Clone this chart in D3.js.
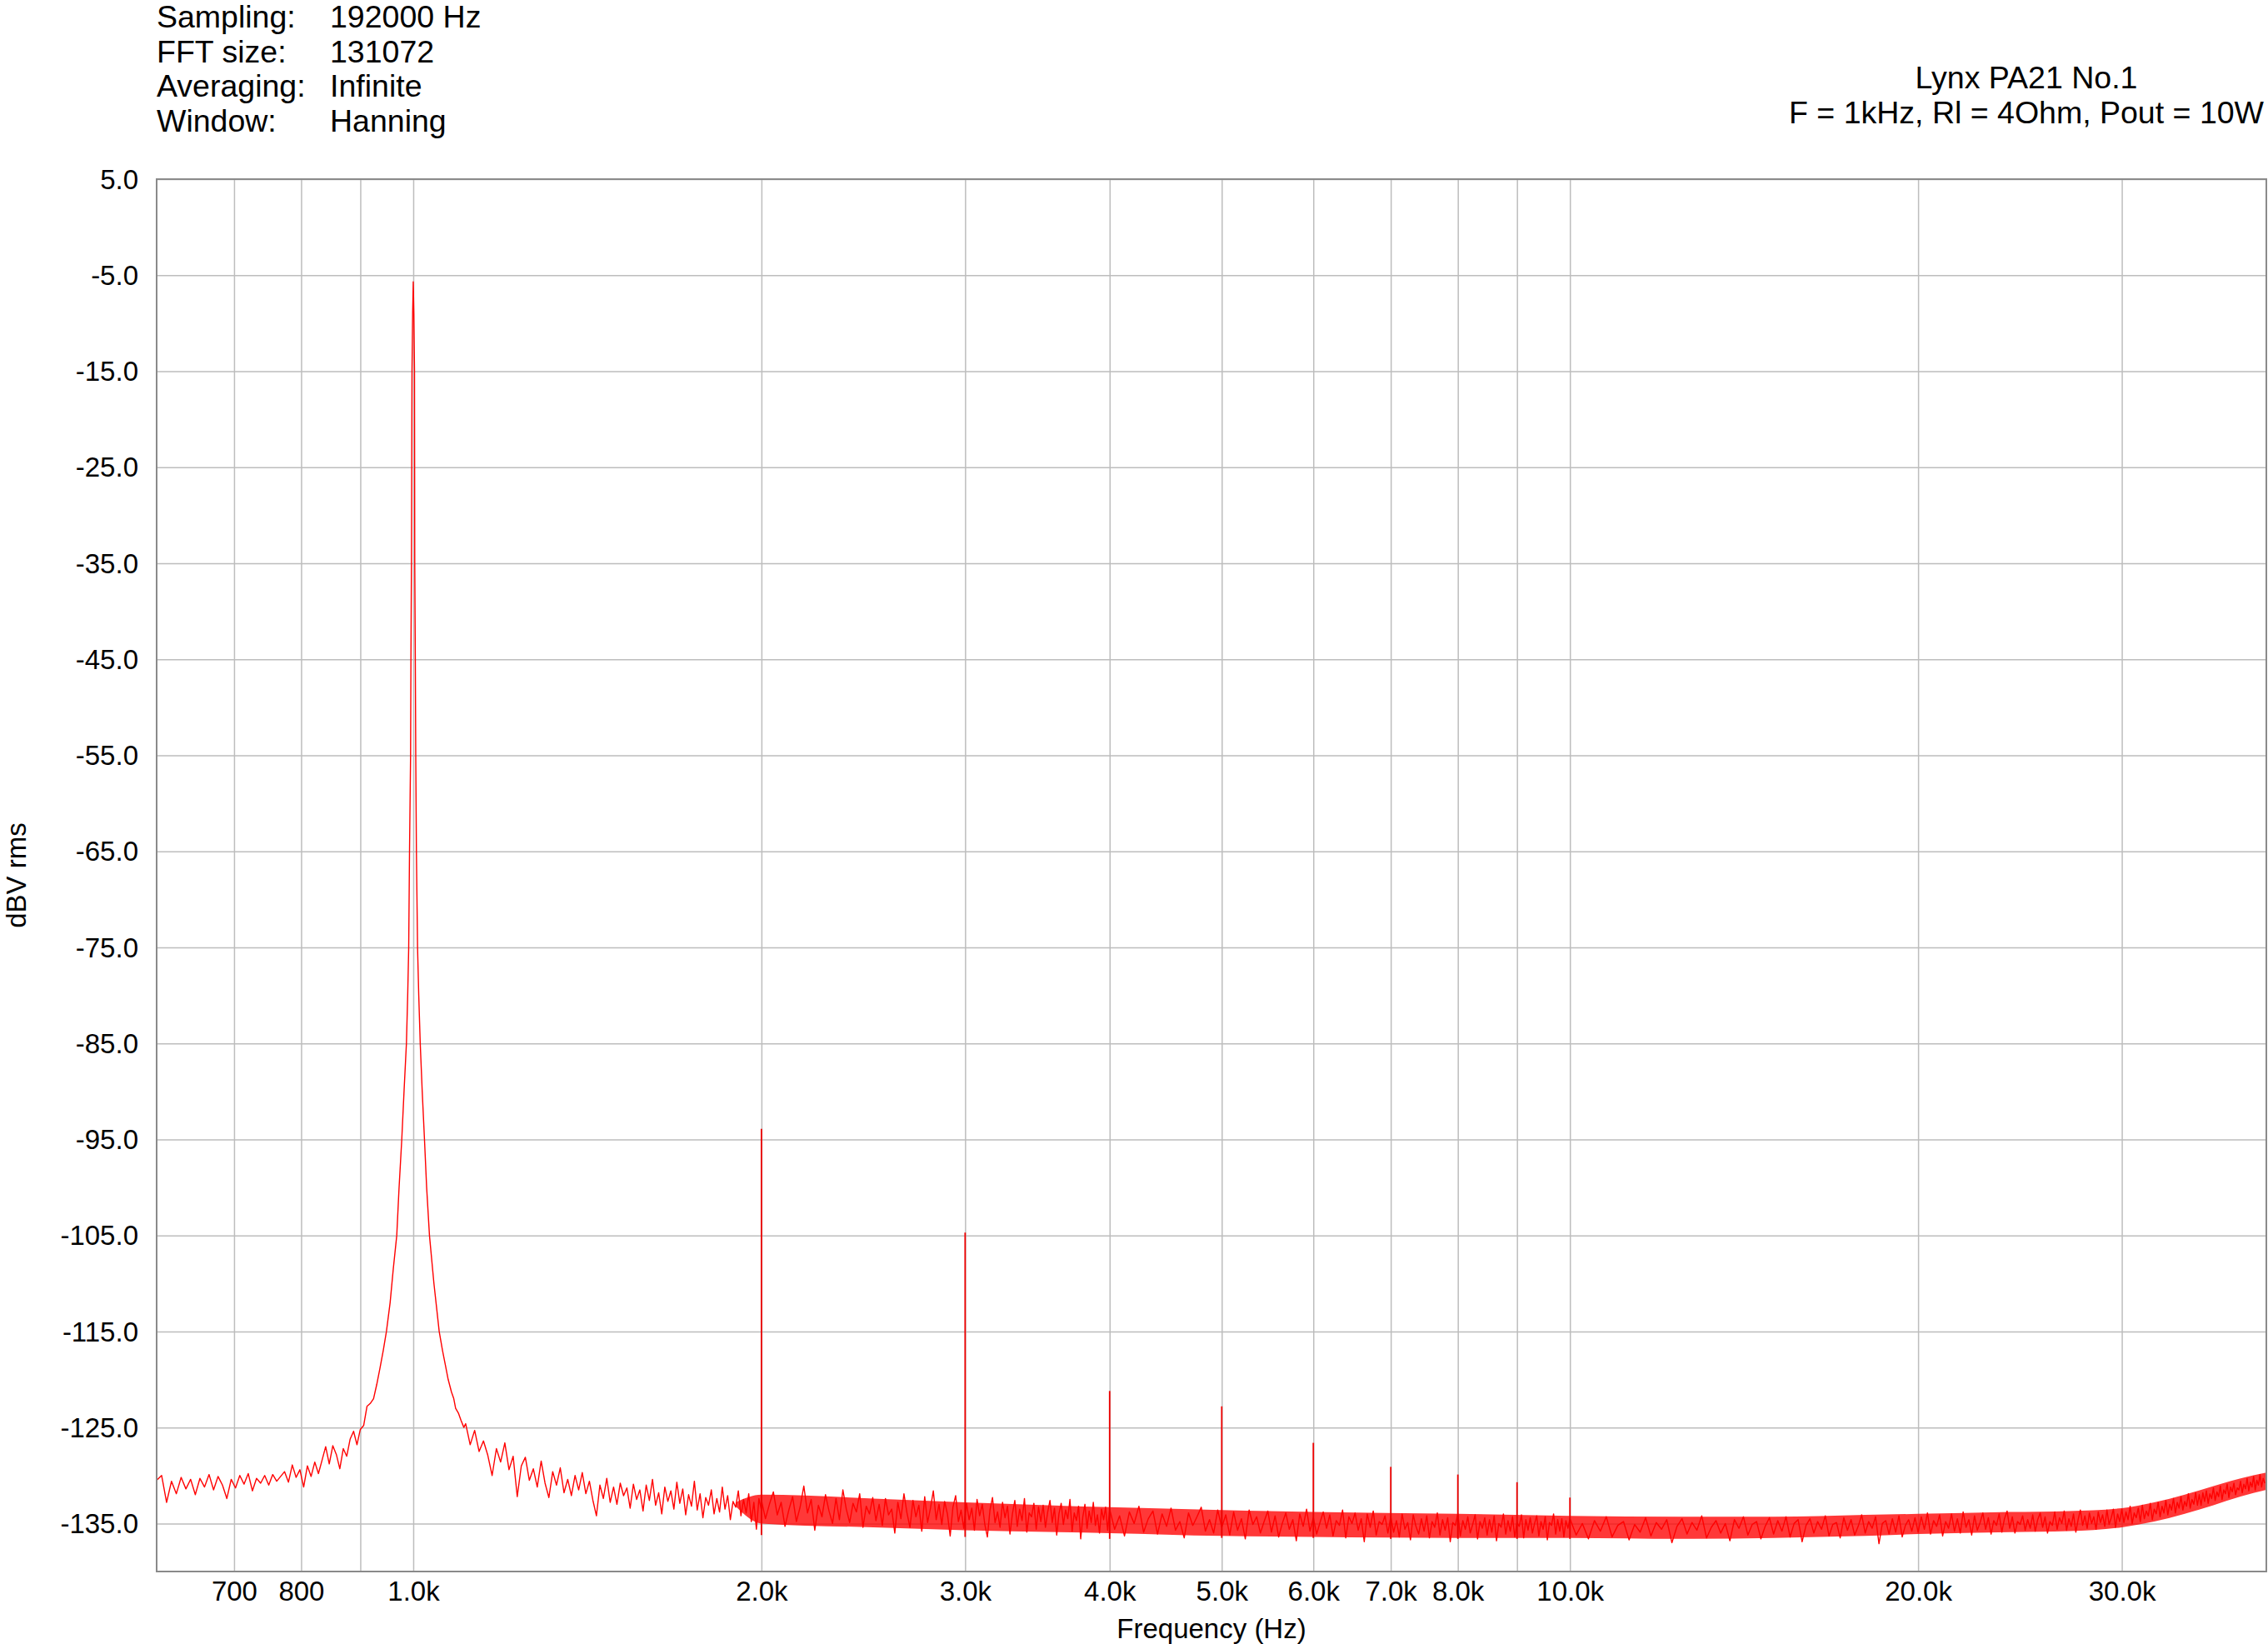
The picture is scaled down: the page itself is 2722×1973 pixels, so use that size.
<!DOCTYPE html>
<html>
<head>
<meta charset="utf-8">
<script src="https://cdn.jsdelivr.net/npm/d3@7"></script>
<style>
body { margin: 0; background: #fff; }
text { font-family: "Liberation Sans", Arial, sans-serif; fill: #000; }
</style>
</head>
<body>
<script>
// ---- data ----
var infoKeys = ["Sampling:", "FFT size:", "Averaging:", "Window:"];
var infoVals = ["192000 Hz", "131072", "Infinite", "Hanning"];
var titleLines = ["Lynx PA21 No.1", "F = 1kHz, Rl = 4Ohm, Pout = 10W"];

var xTickHz = [700, 800, 900, 1000, 2000, 3000, 4000, 5000, 6000, 7000, 8000, 9000, 10000, 20000, 30000];
var xTickText = ["700", "800", "", "1.0k", "2.0k", "3.0k", "4.0k", "5.0k", "6.0k", "7.0k", "8.0k", "", "10.0k", "20.0k", "30.0k"];
var yTicks = [5, -5, -15, -25, -35, -45, -55, -65, -75, -85, -95, -105, -115, -125, -135];

// 600..948 Hz, 6 Hz apart
var lowStart = 600, lowStep = 6;
var lowDb = [-130.5, -130.0, -132.8, -130.6, -131.9, -130.2, -131.4, -130.4, -132.0, -130.3,
  -131.2, -129.9, -131.5, -130.1, -131.0, -132.4, -130.4, -131.3, -130.0, -130.9,
  -129.8, -131.6, -130.3, -130.8, -130.0, -131.0, -129.9, -130.6, -130.1, -129.6,
  -130.7, -128.9, -130.2, -129.4, -131.2, -129.0, -130.1, -128.6, -129.8, -128.4,
  -127.0, -128.8, -126.9, -127.8, -129.3, -127.2, -128.0, -126.2, -125.4, -126.8,
  -125.2, -124.8, -122.8, -122.5, -122.0, -120.5, -118.8, -117.0, -115.0];

// fundamental skirt
var peakHz = [955, 961, 967.7, 972, 977.4, 982, 986.5, 989, 991, 992.6, 994.7, 995.4, 996.4, 997.5, 998.8, 1000,
  1001.2, 1002.5, 1003, 1004.1, 1005, 1006.3, 1008.6, 1011, 1014, 1018, 1022.6, 1027, 1032.8, 1042, 1053,
  1060, 1066, 1072, 1079, 1084, 1088, 1094, 1100, 1106];
var peakDb = [-112.0, -108.5, -105, -100.2, -95, -89.8, -85, -80, -75, -65, -55, -45, -35, -15, -9, -5.7,
  -9, -15, -35, -45, -55, -65, -75, -80, -85, -90, -95, -100, -105, -110, -115,
  -117, -118.5, -120, -121.3, -122.0, -123.0, -123.5, -124.3, -125];

// 1110..2000 Hz, 10 Hz apart
var midStart = 1110, midStep = 10;
var midDb = [-124.6, -126.8, -125.3, -127.5, -126.4, -127.9, -130.0, -127.2, -128.6, -126.6,
  -129.4, -128.0, -132.2, -129.0, -128.1, -130.5, -129.3, -131.2, -128.5, -130.8,
  -132.3, -129.6, -131.0, -129.2, -131.8, -130.4, -132.1, -130.0, -131.5, -129.7,
  -131.9, -130.6, -132.6, -134.2, -131.0, -132.4, -130.3, -132.8, -131.2, -133.0,
  -130.8, -132.1, -131.3, -133.4, -130.9, -132.5, -131.5, -133.7, -131.0, -132.6,
  -130.4, -133.1, -131.8, -134.0, -131.2, -132.7, -131.6, -133.5, -130.7, -132.9,
  -131.4, -134.1, -132.0, -133.2, -130.6, -133.6, -131.9, -134.4, -132.3, -133.1,
  -131.5, -134.0, -132.4, -133.8, -131.2, -133.5, -132.1, -134.6, -132.7, -133.3,
  -131.6, -134.2, -132.5, -133.9, -131.9, -134.8, -132.8, -135.6, -132.4, -133.6];

// 2000..3984 Hz, 16 Hz apart
var band1Start = 2000, band1Step = 16;
var band1Db = [-132.6, -134.5, -133.0, -131.7, -134.1, -132.8, -135.3, -133.6, -132.2, -134.8,
  -133.3, -131.1, -133.9, -132.5, -135.7, -133.1, -134.3, -132.0, -133.7, -135.0,
  -132.4, -134.6, -131.5, -133.5, -134.9, -132.9, -133.8, -131.9, -135.4, -133.2,
  -134.0, -132.3,
  -134.7, -133.0, -135.2, -132.4, -134.1, -133.5, -136.0, -132.8, -134.5, -131.9,
  -133.9, -135.4, -132.6, -134.3, -133.1, -135.8, -132.2, -134.9, -133.4, -131.6,
  -134.6, -133.0, -135.1, -132.7, -134.0, -136.3, -133.3, -132.1, -134.8, -133.6,
  -135.5,
  -132.9, -134.6, -133.4, -135.7, -132.5, -134.2, -133.0, -135.1, -136.4, -133.6,
  -132.3, -134.9, -133.8, -135.4, -132.8, -134.4, -133.2, -136.1, -134.0, -132.6,
  -135.3, -133.5, -134.7, -132.4, -135.9, -133.9, -134.3, -132.9, -135.6, -133.3,
  -134.8,
  -133.1, -135.4, -133.8, -132.6, -134.9, -133.4, -136.2, -134.0, -132.9, -135.1,
  -133.6, -134.5, -132.5, -135.8, -133.9, -134.7, -133.2, -136.6, -134.3, -133.0,
  -135.5, -133.7, -134.9, -132.8, -135.2, -134.1, -136.0, -133.5, -134.6, -133.3,
  -135.7];

// 4000..9960 Hz, 40 Hz apart
var band2Start = 4000, band2Step = 40;
var band2Db = [-133.5, -135.6, -134.2, -136.3, -133.8, -135.0, -133.2, -135.9, -134.5, -133.7,
  -136.1, -134.0, -135.3, -133.4, -135.7, -134.8, -136.5, -133.9, -135.2, -134.3,
  -133.3, -135.8, -134.6, -136.0, -133.6,
  -135.4, -134.1, -136.2, -133.8, -135.7, -134.5, -136.6, -133.6, -135.1, -134.3,
  -136.0, -134.8, -133.7, -135.9, -134.2, -136.4, -135.0, -133.9, -135.6, -134.6,
  -136.8, -134.0, -135.3, -133.5, -135.8, -134.4, -136.1, -134.9, -133.8, -135.5,
  -134.1, -136.3, -134.7, -135.2, -133.6, -136.5, -134.3, -135.0, -133.9, -135.7,
  -134.5, -136.9, -134.0, -135.4, -133.7, -136.2, -134.8, -135.1, -134.2, -136.0,
  -134.3, -135.9, -134.7, -136.4, -134.0, -135.6, -134.9, -136.7, -134.1, -135.3,
  -136.1, -134.5, -135.8, -134.2, -136.5, -134.8, -135.4, -133.9, -136.2, -134.6,
  -135.7, -134.4, -136.9, -134.9, -135.2, -134.0, -136.3, -134.7, -135.6, -134.3,
  -136.0, -135.1, -134.1, -136.6, -134.8, -135.5, -134.4, -136.2, -134.6, -135.9,
  -134.2, -136.8, -135.0, -135.4, -134.0, -136.1, -134.7, -135.8, -134.3, -136.4,
  -134.9, -135.3, -134.1, -136.5, -134.6, -135.7, -134.4, -136.0, -135.0, -134.2,
  -136.3, -134.8, -135.6, -134.3, -136.7, -134.9, -135.2, -134.0, -136.1, -134.6,
  -135.8, -134.5, -136.4, -134.7, -135.5];

// 10000..39875 Hz, 125 Hz apart
var band3Start = 10000, band3Step = 125;
var band3Db = [-134.5, -136.2, -135.0, -136.6, -134.7, -135.8, -134.3, -136.4, -135.2, -134.8,
  -136.7, -135.1, -135.9, -134.4, -136.3, -134.9, -135.6, -134.6, -137.0, -135.3,
  -134.5, -136.1, -134.9, -135.7, -134.2, -136.5, -135.4, -134.7, -136.0, -135.0,
  -136.8, -134.6, -135.5, -134.3, -136.2, -135.1, -134.8, -136.6, -135.3, -134.4,
  -136.1, -134.7, -135.8, -134.3, -136.4, -135.0, -134.6, -136.9, -135.2, -134.5,
  -136.0, -134.8, -135.6, -134.2, -136.3, -135.1, -134.9, -136.5, -134.4, -135.7,
  -134.6, -136.2, -135.3, -134.1, -136.0, -134.8, -135.5, -134.3, -137.1, -135.0,
  -134.7, -136.1, -134.5, -135.9, -134.2, -136.4, -135.2, -134.6, -135.8, -134.4,
  -135.9, -134.3, -135.6, -133.9, -136.1, -134.7, -135.3, -134.1, -136.3, -134.8,
  -135.5, -134.0, -135.8, -134.5, -136.0, -133.8, -135.4, -134.6, -136.2, -134.2,
  -135.7, -134.9, -133.9, -135.6, -134.4, -136.1, -134.7, -135.2, -134.0, -135.9,
  -134.5, -133.7, -135.5, -134.3, -136.0, -134.8, -135.1, -134.2, -135.7, -134.6,
  -135.5, -134.1, -135.8, -134.6, -133.9, -135.4, -134.3, -136.0, -134.8, -135.2,
  -133.8, -135.6, -134.4, -135.0, -133.7, -135.7, -134.5, -135.3, -134.0, -135.9,
  -134.6, -133.6, -135.2, -134.2, -135.5, -133.9, -135.0, -134.3, -135.6, -133.8,
  -134.9, -134.1, -135.3, -133.6, -135.1, -134.4, -133.5, -135.4, -134.0, -134.8,
  -133.5, -134.9, -133.8, -134.6, -133.2, -135.0, -133.9, -134.4, -133.4, -134.8,
  -133.1, -134.5, -133.7, -134.2, -132.9, -134.6, -133.5, -134.0, -132.8, -134.3,
  -133.2, -133.9, -132.6, -134.1, -133.0, -133.6, -132.4, -133.9, -132.8, -133.4,
  -132.2, -133.6, -132.7, -133.2, -131.9, -133.4, -132.5, -133.0, -131.8, -133.1,
  -132.0, -133.1, -131.8, -132.7, -131.6, -132.9, -131.9, -132.4, -131.3, -132.6,
  -131.7, -132.2, -131.1, -132.5, -131.5, -131.9, -130.9, -132.3, -131.2, -131.7,
  -130.8, -132.0, -131.3, -131.5, -130.6, -131.8, -130.9, -131.4, -130.3, -131.6,
  -130.7, -131.2, -130.1, -131.5, -130.5, -131.0, -129.9, -131.2, -130.3, -130.8];

// envelope of the dense noise band
var bandHz = [1900, 2000, 2500, 3000, 4000, 5000, 6000, 8000, 10000, 12500, 15000, 18000, 20000, 24000, 27000, 30000, 32000, 34000, 36000, 38000, 40000];
var bandHi = [-132.8, -132.0, -132.4, -132.8, -133.3, -133.6, -133.8, -134.0, -134.2, -134.3, -134.3, -134.1, -134.0, -133.8, -133.7, -133.4, -132.8, -132.0, -131.1, -130.3, -129.7];
var bandLo = [-133.2, -135.0, -135.4, -135.7, -136.0, -136.3, -136.4, -136.5, -136.5, -136.6, -136.5, -136.3, -136.1, -135.9, -135.8, -135.4, -134.8, -134.0, -133.1, -132.2, -131.5];

// harmonic spikes
var harmHz = [2000, 3000, 4000, 5000, 6000, 7000, 8000, 9000, 10000];
var harmDb = [-93.9, -104.7, -121.2, -122.8, -126.6, -129.1, -129.9, -130.7, -132.3];
var harmFoot = [-136.2, -136.4, -136.6, -136.5, -136.5, -136.6, -136.6, -136.6, -136.6];

// ---- layout ----
var W = 2722, H = 1973,
    margin = {top: 215, right: 2, bottom: 87, left: 188},
    pw = W - margin.left - margin.right,
    ph = H - margin.top - margin.bottom;

var x = d3.scaleLog().domain([600, 40000]).range([0, pw]);
var y = d3.scaleLinear().domain([-140, 5]).range([ph, 0]);

var svg = d3.select("body").append("svg")
    .attr("width", W)
    .attr("height", H);

svg.append("rect").attr("width", W).attr("height", H).attr("fill", "#fff");

// header block
var info = svg.append("g").style("font-size", "37.5px");
infoKeys.forEach(function(k, i) {
    info.append("text").attr("x", 188).attr("y", 33 + i * 41.5).text(k);
    info.append("text").attr("x", 396).attr("y", 33 + i * 41.5).text(infoVals[i]);
});

svg.append("g").style("font-size", "37.5px")
    .selectAll("text")
    .data(titleLines)
    .enter().append("text")
    .attr("x", 2432)
    .attr("y", function(d, i) { return 106 + i * 42; })
    .attr("text-anchor", "middle")
    .text(function(d) { return d; });

var g = svg.append("g")
    .attr("transform", "translate(" + margin.left + "," + margin.top + ")");

g.append("clipPath").attr("id", "plotclip")
  .append("rect").attr("width", pw).attr("height", ph);

// grid + axes
var xAxis = g.append("g")
    .attr("transform", "translate(0," + ph + ")")
    .call(d3.axisBottom(x)
        .tickValues(xTickHz)
        .tickFormat(function(d, i) { return xTickText[i]; })
        .tickSize(-ph)
        .tickPadding(12));

var yAxis = g.append("g")
    .call(d3.axisLeft(y)
        .tickValues(yTicks)
        .tickFormat(function(d) { return d.toFixed(1); })
        .tickSize(-pw)
        .tickPadding(22));

[xAxis, yAxis].forEach(function(a) {
    a.select(".domain").remove();
    a.selectAll(".tick line").attr("stroke", "#bdbdbd").attr("stroke-width", 1.5);
    a.selectAll(".tick text")
        .style("font-size", "33px")
        .style("font-family", "\"Liberation Sans\", Arial, sans-serif")
        .attr("fill", "#000");
});
yAxis.selectAll(".tick text").attr("dy", "0.34em");

// spectrum
var plot = g.append("g").attr("clip-path", "url(#plotclip)");

var band = bandHz.map(function(f, i) { return {hz: f, hi: bandHi[i], lo: bandLo[i]}; });
plot.append("path")
    .datum(band)
    .attr("fill", "#ff0000")
    .attr("fill-opacity", 0.78)
    .attr("d", d3.area()
        .curve(d3.curveMonotoneX)
        .x(function(d) { return x(d.hz); })
        .y0(function(d) { return y(d.lo); })
        .y1(function(d) { return y(d.hi); }));

var trace = [];
lowDb.forEach(function(v, i) { trace.push([lowStart + i * lowStep, v]); });
peakHz.forEach(function(f, i) { trace.push([f, peakDb[i]]); });
midDb.forEach(function(v, i) { trace.push([midStart + i * midStep, v]); });
band1Db.forEach(function(v, i) { trace.push([band1Start + i * band1Step, v]); });
band2Db.forEach(function(v, i) { trace.push([band2Start + i * band2Step, v]); });
band3Db.forEach(function(v, i) { trace.push([band3Start + i * band3Step, v]); });

plot.append("path")
    .datum(trace)
    .attr("fill", "none")
    .attr("stroke", "#ff0000")
    .attr("stroke-width", 1.4)
    .attr("stroke-linejoin", "round")
    .attr("d", d3.line()
        .x(function(d) { return x(d[0]); })
        .y(function(d) { return y(d[1]); }));

plot.selectAll(".harm")
    .data(harmHz)
    .enter().append("line")
    .attr("class", "harm")
    .attr("x1", function(d) { return x(d); })
    .attr("x2", function(d) { return x(d); })
    .attr("y1", function(d, i) { return y(harmFoot[i]); })
    .attr("y2", function(d, i) { return y(harmDb[i]); })
    .attr("stroke", "#ee0000")
    .attr("stroke-width", 1.8);

// frame
g.append("rect")
    .attr("width", pw)
    .attr("height", ph)
    .attr("fill", "none")
    .attr("stroke", "#8a8a8a")
    .attr("stroke-width", 2);

// axis titles
svg.append("text")
    .attr("x", margin.left + pw / 2)
    .attr("y", 1966)
    .attr("text-anchor", "middle")
    .style("font-size", "33px")
    .text("Frequency (Hz)");

svg.append("text")
    .attr("transform", "translate(31," + (margin.top + ph / 2) + ") rotate(-90)")
    .attr("text-anchor", "middle")
    .style("font-size", "33px")
    .text("dBV rms");
</script>
</body>
</html>
